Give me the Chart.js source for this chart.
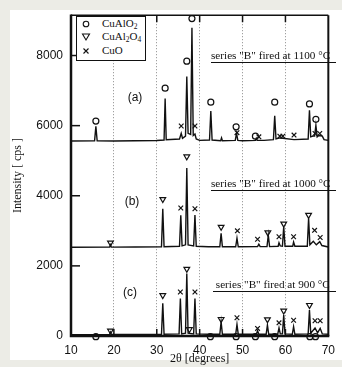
<!DOCTYPE html>
<html><head><meta charset="utf-8">
<script src="https://cdn.jsdelivr.net/npm/chart.js@4.4.0/dist/chart.umd.min.js"></script>
<style>
html,body{margin:0;padding:0;background:#ecece6;}
#wrap{position:relative;width:342px;height:367px;overflow:hidden;}
#paper{position:absolute;left:10px;top:10px;width:332px;height:350px;background:#fff;}
canvas{position:absolute;left:0;top:0;}
.lbl{position:absolute;font-family:"Liberation Sans",Arial,sans-serif;font-size:12px;color:#111;line-height:1;transform:translate(-50%,-50%);white-space:nowrap;}
.ser{position:absolute;font-family:"Liberation Serif","Times New Roman",serif;font-size:11.2px;color:#111;border-bottom:1.3px solid #111;line-height:12px;padding-bottom:1px;white-space:nowrap;}
#legend{position:absolute;left:76px;top:16px;width:68px;height:43px;border:1px solid #111;background:#fff;}
.leg{position:absolute;left:25px;font-family:"Liberation Serif","Times New Roman",serif;font-size:11px;line-height:11px;white-space:nowrap;color:#111;}
.leg sub{font-size:7.5px;vertical-align:-2px;line-height:0;}
.sym{position:absolute;left:3px;}
</style></head>
<body>
<div id="wrap">
<div id="paper"></div>
<canvas id="c" width="342" height="367"></canvas>
<div id="legend">
  <svg class="sym" style="top:1px" width="12" height="12"><circle cx="6" cy="6" r="2.8" fill="none" stroke="#111" stroke-width="1.1"/></svg>
  <div class="leg" style="top:1px">CuAlO<sub>2</sub></div>
  <svg class="sym" style="top:14px" width="12" height="12"><polygon points="2.5,3 9.5,3 6,9" fill="none" stroke="#111" stroke-width="1.1"/></svg>
  <div class="leg" style="top:14px">CuAl<sub>2</sub>O<sub>4</sub></div>
  <svg class="sym" style="top:27.5px" width="12" height="12"><path d="M3.5,3.5 L8.5,8.5 M8.5,3.5 L3.5,8.5" stroke="#111" stroke-width="1.1"/></svg>
  <div class="leg" style="top:27.5px">CuO</div>
</div>
<div class="lbl" style="left:135px;top:97px">(a)</div>
<div class="lbl" style="left:132px;top:201px">(b)</div>
<div class="lbl" style="left:130px;top:292px">(c)</div>
<div class="ser" style="left:211px;top:49px;width:125px">series "B" fired at 1100 °C</div>
<div class="ser" style="left:211px;top:177px;width:125px">series "B" fired at 1000 °C</div>
<div class="ser" style="left:213px;top:278px;width:123px">&nbsp;series "B" fired at 900 °C</div>
</div>
<script>
// ---- data ----
const xTicks = [10,20,30,40,50,60,70];
const yTicks = [0,2000,4000,6000,8000];

const traceA_2theta = [10,15.5,15.8,16.1,20,25,30,31.7,31.95,32.2,35.3,35.7,36.0,36.7,37.0,37.3,37.9,38.2,38.5,38.9,39.2,40,42.3,42.6,42.9,44.9,45.1,45.3,48.3,48.6,48.9,50,53.0,53.2,53.4,55,57.2,57.5,57.8,58.7,59.4,62.0,65.3,65.6,65.9,66.4,66.8,67.1,67.4,67.8,68.6,69,70];
const traceA_cps = [5560,5565,5980,5565,5560,5570,5575,5590,6770,5600,5620,5780,5640,5700,7400,5780,5750,8790,5720,5760,5620,5580,5590,6420,5590,5570,5650,5570,5580,5780,5580,5570,5580,5640,5580,5580,5600,6280,5620,5650,5640,5600,5620,6440,5680,5700,5700,6010,5680,5720,5700,5600,5580];

const traceB_2theta = [10,19.0,19.2,19.4,25,31.1,31.4,31.7,35.3,35.6,35.9,36.7,37.0,37.3,38.6,38.9,39.2,42,44.7,45.0,45.3,48.4,48.7,49.0,53.5,53.8,54.1,55.7,56.0,56.3,58.3,58.5,58.8,59.3,59.6,59.9,61.7,61.9,62.2,65.1,65.4,65.7,66.5,67.2,68.0,68.5,70];
const traceB_cps = [2530,2535,2600,2535,2540,2545,3630,2545,2560,3440,2570,2600,4790,2600,2570,3450,2560,2545,2545,2930,2545,2545,2790,2545,2550,2620,2550,2550,2880,2550,2560,2660,2570,2560,3120,2560,2560,2680,2560,2560,3360,2600,2700,2600,2690,2580,2540];

const traceC_2theta = [10,19.0,19.2,19.4,25,31.1,31.4,31.7,35.2,35.5,35.8,36.7,37.0,37.3,38.6,38.9,39.2,42,44.7,45.0,45.3,48.4,48.7,49.0,53.2,53.5,53.8,55.5,55.8,56.1,58.2,58.5,58.8,59.3,59.6,59.9,61.6,61.9,62.2,65.3,65.6,65.9,66.9,67.5,68.1,68.6,70];
const traceC_cps = [40,45,110,45,45,50,930,50,60,1070,60,80,1780,80,60,1070,60,50,50,405,50,50,330,50,50,150,50,50,310,50,50,230,60,60,600,60,50,265,50,60,740,80,230,90,220,60,50];

// CuAlO2 markers (circles)
const circA_2theta = [15.8,31.95,37.0,38.2,42.6,48.5,53.0,57.5,65.6,67.1];
const circA_cps = [6130,7070,7840,9055,6670,5965,5700,6670,6620,6180];
const circC_2theta = [15.8,42.5,48.5,53.0,57.5,65.7,67.0];
const circC_cps = [-20,-20,-20,-20,-20,-20,-20];
// CuAl2O4 markers (down triangles)
const triB_2theta = [19.2,31.4,37.0,45.0,55.9,59.6,65.4];
const triB_cps = [2660,3900,5117,3110,2950,3200,3450];
const triC_2theta = [19.2,31.4,37.0,37.6,45.0,55.8,59.6,65.6];
const triC_cps = [150,1160,1913,190,480,470,717,880];
// CuO markers (crosses)
const crossA_2theta = [35.7,38.9,48.7,53.8,58.7,59.4,62.0,66.9,68.0];
const crossA_cps = [5990,5990,5800,5680,5700,5700,5730,5775,5775];
const crossB_2theta = [35.6,38.9,48.8,53.5,58.5,61.9,66.8,68.1];
const crossB_cps = [3650,3630,3000,2760,2830,2830,3015,2810];
const crossC_2theta = [35.5,38.9,48.7,53.5,58.5,61.9,66.9,68.1];
const crossC_cps = [1255,1255,520,215,375,450,435,435];

const pts = (xs, ys) => xs.map((x, i) => ({x, y: ys[i]}));
const INK = '#111';

function traceDS(xs, ys){
  return {type:'line', data:pts(xs,ys), borderColor:INK, borderWidth:1.4, pointRadius:0, tension:0, showLine:true, order:2};
}
function markDS(xs, ys, style, extra){
  return Object.assign({type:'scatter', data:pts(xs,ys), pointStyle:style, pointRadius:3, pointBorderColor:INK,
    pointBackgroundColor:'rgba(0,0,0,0)', pointBorderWidth:1.2, showLine:false, clip:false, order:1}, extra||{});
}

const framePlugin = {
  id:'frame',
  afterDraw(chart){
    const {ctx, chartArea:a, scales:{x, y}} = chart;
    ctx.save();
    ctx.strokeStyle = INK;
    ctx.lineWidth = 1.5;
    yTicks.forEach(v => { const py = y.getPixelForValue(v); ctx.beginPath(); ctx.moveTo(a.left, py); ctx.lineTo(a.left+9, py); ctx.stroke(); });
    xTicks.slice(1,-1).forEach(v => { const px = x.getPixelForValue(v);
      ctx.beginPath(); ctx.moveTo(px, a.bottom); ctx.lineTo(px, a.bottom-7); ctx.stroke();
      ctx.beginPath(); ctx.moveTo(px, a.top); ctx.lineTo(px, a.top+7); ctx.stroke(); });
    ctx.lineWidth = 1.5;
    ctx.beginPath(); ctx.moveTo(a.left, a.top); ctx.lineTo(a.right, a.top); ctx.stroke();
    ctx.lineWidth = 2;
    ctx.beginPath(); ctx.moveTo(a.right, a.top); ctx.lineTo(a.right, a.bottom); ctx.stroke();
    ctx.lineWidth = 2.5;
    ctx.beginPath(); ctx.moveTo(a.left, a.top-0.7); ctx.lineTo(a.left, a.bottom); ctx.lineTo(a.right+1, a.bottom); ctx.stroke();
    ctx.restore();
  }
};

new Chart(document.getElementById('c'), {
  type:'scatter',
  data:{datasets:[
    traceDS(traceA_2theta, traceA_cps),
    traceDS(traceB_2theta, traceB_cps),
    traceDS(traceC_2theta, traceC_cps),
    markDS(circA_2theta, circA_cps, 'circle'),
    markDS(circC_2theta, circC_cps, 'circle'),
    markDS(triB_2theta, triB_cps, 'triangle', {rotation:180, pointRadius:3.3}),
    markDS(triC_2theta, triC_cps, 'triangle', {rotation:180, pointRadius:3.3}),
    markDS(crossA_2theta, crossA_cps, 'crossRot', {pointRadius:3.3}),
    markDS(crossB_2theta, crossB_cps, 'crossRot', {pointRadius:3.3}),
    markDS(crossC_2theta, crossC_cps, 'crossRot', {pointRadius:3.3})
  ]},
  options:{
    responsive:false, animation:false, devicePixelRatio:1,
    layout:{padding:{left:10, right:5, top:12, bottom:0}},
    plugins:{legend:{display:false}, tooltip:{enabled:false}},
    scales:{
      x:{type:'linear', min:10, max:70,
        afterBuildTicks(s){ s.ticks = xTicks.map(v=>({value:v})); },
        afterFit(s){ s.height = 31; },
        grid:{drawTicks:false, color:(c)=> (c.tick && (c.tick.value===10||c.tick.value===70)) ? 'rgba(0,0,0,0)' : '#8a8a8a', lineWidth:1},
        border:{display:false, dash:[1,2]},
        ticks:{padding:7, color:INK, font:{family:'"Liberation Sans", Arial, sans-serif', size:12}, maxRotation:0, callback:(v)=>String(v)},
        title:{display:true, text:'2θ [degrees]', color:INK, padding:{top:0,bottom:1}, font:{family:'"Liberation Serif", "Times New Roman", serif', size:12}}
      },
      y:{type:'linear', min:0, max:9150,
        afterBuildTicks(s){ s.ticks = yTicks.map(v=>({value:v})); },
        afterFit(s){ s.width = 61; },
        grid:{display:false, drawTicks:false},
        border:{display:false},
        ticks:{padding:8, color:INK, font:{family:'"Liberation Sans", Arial, sans-serif', size:12}, callback:(v)=>String(v)},
        title:{display:true, text:'Intensity [ cps ]', color:INK, padding:{top:1,bottom:0}, font:{family:'"Liberation Serif", "Times New Roman", serif', size:12}}
      }
    }
  },
  plugins:[framePlugin]
});
</script>
</body></html>
